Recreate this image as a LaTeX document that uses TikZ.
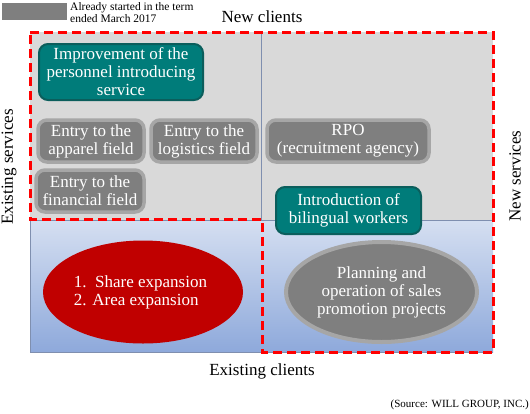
\documentclass[tikz,border=0pt]{standalone}
\usepackage{fontspec}
\setmainfont{Liberation Serif}
\usetikzlibrary{shapes.geometric}
\definecolor{tealfill}{HTML}{007C7A}
\definecolor{tealedge}{HTML}{0B5E5C}
\definecolor{grayfill}{HTML}{7F7F7F}
\definecolor{grayedge}{HTML}{A6A6A6}
\definecolor{bgGray}{HTML}{D9D9D9}
\definecolor{blueTop}{HTML}{D5DFF1}
\definecolor{blueBot}{HTML}{8EA9DB}
\definecolor{divider}{HTML}{7F8FAF}
\definecolor{redEll}{HTML}{C00000}
\definecolor{redDash}{HTML}{FF0000}
\begin{document}
\begin{tikzpicture}[x=1pt,y=-1pt,
  big/.style={font=\fontsize{17}{18}\selectfont, text=white, align=center, inner sep=0pt},
  tealbox/.style={big, draw=tealedge, line width=2pt, fill=tealfill, rounded corners=9pt},
  graybox/.style={big, draw=grayedge, line width=3.5pt, fill=grayfill, rounded corners=9pt},
  axislabel/.style={font=\fontsize{17}{18}\selectfont, inner sep=0pt},
  redell/.style={big, ellipse, fill=redEll, align=left},
  grayell/.style={big, ellipse, fill=grayfill, draw=grayedge, line width=4pt},
  zone/.style={redDash, line width=3pt, dash pattern=on 9pt off 5pt}]
\useasboundingbox (0,0) rectangle (530,413);
% legend
\fill[grayfill] (2,3) rectangle (67,20);
\node[anchor=west, font=\fontsize{11.5}{12}\selectfont, align=left, inner sep=0pt] (legend) at (70,12.5) {Already started in the term\\ended March 2017};
% background quadrants
\fill[bgGray] (30,32) rectangle (493,220);
\shade[top color=blueTop, bottom color=blueBot] (30,220) rectangle (493,352);
\draw[divider, line width=0.8pt] (30,220) -- (30,352) -- (493,352);
\draw[divider, line width=0.8pt] (30,220) -- (493,220);
\draw[divider, line width=0.8pt] (261,32) -- (261,220);
% axis labels
\node[axislabel] (newclients) at (262,17) {New clients};
\node[axislabel] (existclients) at (262,371) {Existing clients};
\node[axislabel, rotate=90] (existserv) at (9,167) {Existing services};
\node[axislabel, rotate=90] (newserv) at (515,176) {New services};
\node[anchor=east, font=\fontsize{11}{12}\selectfont, inner sep=0pt] (source) at (529,405) {(Source: WILL GROUP, INC.)};
% boxes
\node[tealbox, minimum width=164pt, minimum height=56pt] (imp) at (121,72) {Improvement of the\\personnel introducing\\service};
\node[graybox, minimum width=106pt, minimum height=42pt] (apparel) at (91,141) {Entry to the\\apparel field};
\node[graybox, minimum width=106pt, minimum height=42pt] (logistics) at (204,141) {Entry to the\\logistics field};
\node[graybox, minimum width=108pt, minimum height=42pt] (financial) at (90,191) {Entry to the\\financial field};
\node[graybox, minimum width=162pt, minimum height=42pt] (rpo) at (348,141) {RPO\\(recruitment agency)};
\node[tealbox, minimum width=145pt, minimum height=47pt] (bilingual) at (348.5,210.5) {Introduction of\\bilingual workers};
% ellipses
\node[redell, minimum width=200pt, minimum height=103pt] (share) at (143,292) {};
\node[big, align=left] (sharetext) at (140.5,292) {1.\ \ Share expansion\\2. Area expansion};
\node[grayell, minimum width=191pt, minimum height=100pt] (promo) at (381.5,292) {Planning and\\operation of sales\\promotion projects};
% red dashed zone
\draw[zone] (30,32) -- (493,32) -- (493,352) -- (262,352) -- (262,219) -- (30,219) -- cycle;
\end{tikzpicture}
\end{document}
